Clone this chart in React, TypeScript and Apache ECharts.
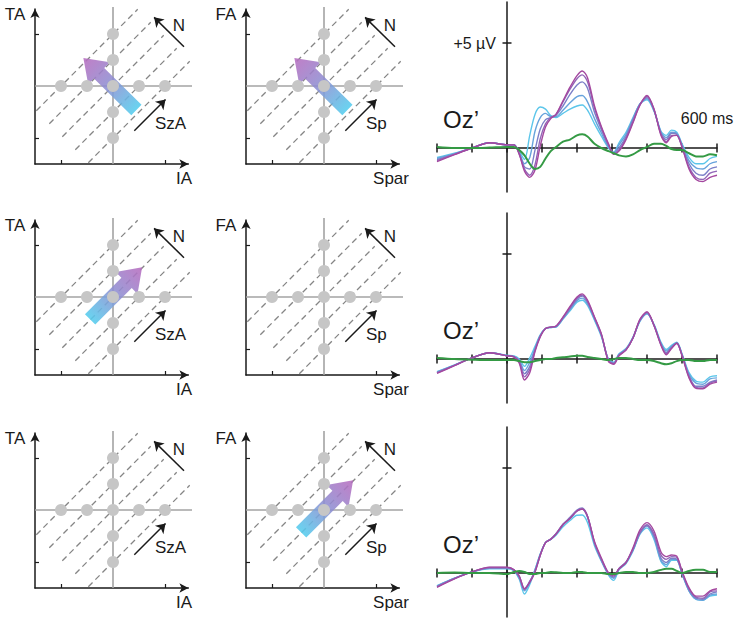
import React, { useEffect, useRef } from 'react';
import * as echarts from 'echarts';

const FONT = '"Liberation Sans", Arial, Helvetica, sans-serif';
const INK = '#1a1a1a';

// ---------- diagram panels (left two columns) ----------
const U = 52; // px per unit in the diagrams
const COL_CX = [113, 324];
const ROW_CY = [86, 297, 510];
const DIAG_MIN = -1.5;
const DIAG_XMAX = 1.45;
const DIAG_YMAX = 1.48;

const DOT_X = [-1, -0.5, 0, 0.5, 1, 0, 0, 0, 0];
const DOT_Y = [0, 0, 0, 0, 0, 1, 0.5, -0.5, -1];
const DASH_SEGMENTS = [
  [-1.475, -0.475, 0.475, 1.475],
  [-1.225, -0.725, 0.725, 1.225],
  [-0.975, -0.975, 0.975, 0.975],
  [-0.725, -1.225, 1.225, 0.725],
  [-0.475, -1.475, 1.475, 0.475],
];
const CROSS_SEGMENTS = [
  [0, -1.5, 0, 1.52],
  [-1.5, 0, 1.52, 0],
];
const N_ARROW = [1.365, 0.756, 0.79, 1.32];
const DIR_ARROW = [0.41, -0.86, 1.01, -0.26];
const BIG_ARROW_N = [0.45, -0.46, -0.57, 0.54];
const BIG_ARROW_DIR = [-0.44, -0.43, 0.56, 0.57];

const PANELS = [
  { row: 0, col: 0, yName: 'TA', xName: 'IA', dirName: 'SzA', arrow: BIG_ARROW_N },
  { row: 0, col: 1, yName: 'FA', xName: 'Spar', dirName: 'Sp', arrow: BIG_ARROW_N },
  { row: 1, col: 0, yName: 'TA', xName: 'IA', dirName: 'SzA', arrow: BIG_ARROW_DIR },
  { row: 1, col: 1, yName: 'FA', xName: 'Spar', dirName: 'Sp', arrow: null },
  { row: 2, col: 0, yName: 'TA', xName: 'IA', dirName: 'SzA', arrow: null },
  { row: 2, col: 1, yName: 'FA', xName: 'Spar', dirName: 'Sp', arrow: BIG_ARROW_DIR },
];

// ---------- ERP panels (right column) ----------
const ERP_LEFT = 437;
const ERP_WIDTH = 280;
const ERP_BASE = [148, 359, 573];
const UV_PX = 21;
const ERP_YMIN = -2.1;
const ERP_YMAX = 6.95;

const T = [-200, -150, -100, -50, 0, 20, 35, 50, 65, 80, 95, 110, 125, 140, 160, 180, 200, 215, 230, 250, 270, 290, 305, 320, 340, 360, 380, 400, 420, 440, 455, 470, 485, 500, 520, 540, 560, 580, 600];
const X_TICKS = [-200, -100, 0, 100, 200, 300, 400, 500, 600];
const Y_TICKS = [5];

// row 1
const C1 = [-0.45, -0.25, 0.0, 0.25, 0.15, 0.15, -0.15, -0.55, 0.6, 1.6, 1.95, 1.85, 1.55, 1.45, 1.65, 1.85, 2.0, 2.05, 1.8, 1.15, 0.55, 0.0, -0.2, 0.25, 0.75, 1.45, 2.1, 2.3, 1.75, 0.8, 0.6, 0.85, 0.75, 0.2, -0.45, -0.75, -0.75, -0.5, -0.4];
const B1 = [-0.5, -0.27, 0.0, 0.25, 0.15, 0.15, -0.2, -0.75, -0.45, 0.8, 1.45, 1.65, 1.5, 1.5, 1.8, 2.15, 2.45, 2.5, 2.2, 1.4, 0.7, 0.05, -0.2, 0.15, 0.65, 1.4, 2.1, 2.35, 1.8, 0.75, 0.5, 0.75, 0.7, 0.15, -0.6, -0.95, -1.0, -0.75, -0.65];
const M1 = [-0.55, -0.29, 0.0, 0.25, 0.15, 0.15, -0.25, -0.9, -1.0, -0.1, 0.9, 1.35, 1.45, 1.55, 2.0, 2.55, 3.0, 3.15, 2.85, 1.7, 0.85, 0.1, -0.25, 0.0, 0.55, 1.35, 2.1, 2.4, 1.8, 0.7, 0.4, 0.7, 0.65, 0.1, -0.75, -1.2, -1.3, -1.0, -0.9];
const P1 = [-0.6, -0.3, 0.0, 0.25, 0.15, 0.15, -0.3, -1.0, -1.3, -0.8, 0.45, 1.15, 1.45, 1.6, 2.2, 2.8, 3.3, 3.48, 3.15, 1.9, 0.95, 0.15, -0.3, -0.1, 0.45, 1.25, 2.05, 2.45, 1.85, 0.65, 0.3, 0.6, 0.6, 0.05, -0.9, -1.4, -1.5, -1.2, -1.1];
const G1 = [-0.65, -0.32, 0.0, 0.25, 0.15, 0.15, -0.3, -1.1, -1.4, -1.05, 0.1, 1.0, 1.4, 1.6, 2.25, 2.9, 3.45, 3.67, 3.35, 2.0, 1.0, 0.2, -0.3, -0.15, 0.4, 1.2, 2.05, 2.5, 1.85, 0.6, 0.25, 0.55, 0.6, 0.05, -1.0, -1.5, -1.6, -1.4, -1.3];
const D1 = [0.05, 0.0, 0.0, 0.02, 0.05, 0.05, -0.1, -0.35, -0.75, -1.0, -0.9, -0.5, -0.15, 0.05, 0.3, 0.4, 0.6, 0.65, 0.55, 0.2, 0.0, -0.15, -0.25, -0.35, -0.4, -0.3, -0.1, 0.05, 0.2, 0.2, 0.1, -0.05, -0.1, -0.1, -0.25, -0.4, -0.4, -0.3, -0.35];

// row 2
const C2 = [-0.6, -0.28, 0.05, 0.3, 0.18, 0.15, 0.0, -0.35, 0.05, 0.6, 1.15, 1.45, 1.5, 1.52, 1.9, 2.3, 2.7, 2.8, 2.55, 1.85, 1.05, 0.0, -0.15, 0.25, 0.5, 1.05, 1.8, 2.15, 1.65, 0.8, 0.45, 0.65, 0.8, 0.25, -0.65, -1.05, -1.1, -0.85, -0.8];
const B2 = [-0.62, -0.29, 0.05, 0.3, 0.16, 0.12, -0.05, -0.55, -0.15, 0.5, 1.12, 1.45, 1.5, 1.53, 1.92, 2.35, 2.78, 2.9, 2.62, 1.9, 1.1, -0.05, -0.18, 0.22, 0.47, 1.02, 1.82, 2.17, 1.62, 0.75, 0.38, 0.6, 0.78, 0.22, -0.72, -1.15, -1.2, -0.95, -0.9];
const M2 = [-0.65, -0.3, 0.05, 0.3, 0.15, 0.1, -0.1, -0.7, -0.35, 0.45, 1.1, 1.45, 1.52, 1.55, 1.95, 2.4, 2.85, 3.0, 2.7, 1.95, 1.12, -0.08, -0.2, 0.2, 0.45, 1.0, 1.85, 2.2, 1.6, 0.7, 0.3, 0.55, 0.75, 0.2, -0.8, -1.3, -1.3, -1.1, -1.0];
const P2 = [-0.66, -0.3, 0.05, 0.3, 0.15, 0.1, -0.15, -0.85, -0.5, 0.4, 1.08, 1.45, 1.52, 1.56, 1.97, 2.45, 2.9, 3.05, 2.75, 1.98, 1.15, -0.1, -0.22, 0.18, 0.44, 1.0, 1.87, 2.22, 1.6, 0.68, 0.25, 0.52, 0.75, 0.18, -0.85, -1.35, -1.38, -1.15, -1.05];
const G2 = [-0.68, -0.32, 0.05, 0.3, 0.15, 0.1, -0.2, -1.0, -0.65, 0.35, 1.05, 1.45, 1.52, 1.57, 2.0, 2.5, 2.95, 3.1, 2.8, 2.0, 1.18, -0.12, -0.25, 0.15, 0.42, 1.0, 1.9, 2.25, 1.6, 0.65, 0.2, 0.5, 0.75, 0.15, -0.9, -1.4, -1.42, -1.2, -1.1];
const D2 = [0.05, 0.0, -0.03, -0.05, -0.05, -0.05, -0.1, -0.15, -0.15, -0.1, -0.05, 0.0, 0.0, 0.05, 0.08, 0.12, 0.15, 0.15, 0.1, 0.05, 0.0, -0.05, 0.0, 0.05, 0.05, 0.0, -0.05, -0.05, -0.1, -0.2, -0.25, -0.2, -0.1, -0.05, -0.05, -0.1, -0.1, -0.05, -0.05];

// row 3
const C3 = [-0.6, -0.25, 0.05, 0.2, 0.2, 0.1, -0.3, -1.0, -0.55, 0.15, 0.9, 1.45, 1.6, 1.8, 2.2, 2.5, 2.75, 2.76, 2.4, 1.3, 0.55, -0.1, -0.35, 0.15, 0.45, 1.05, 1.85, 2.15, 1.6, 0.55, 0.3, 0.6, 0.6, -0.05, -0.85, -1.25, -1.3, -1.1, -1.05];
const B3 = [-0.62, -0.25, 0.05, 0.22, 0.22, 0.12, -0.25, -0.85, -0.45, 0.15, 0.9, 1.45, 1.6, 1.85, 2.3, 2.6, 2.95, 3.05, 2.65, 1.4, 0.6, -0.05, -0.25, 0.2, 0.5, 1.1, 1.9, 2.25, 1.7, 0.6, 0.4, 0.65, 0.65, 0.0, -0.85, -1.25, -1.3, -1.05, -1.0];
const M3 = [-0.64, -0.26, 0.05, 0.24, 0.24, 0.15, -0.2, -0.8, -0.4, 0.1, 0.85, 1.45, 1.62, 1.87, 2.32, 2.65, 3.0, 3.1, 2.7, 1.42, 0.6, -0.05, -0.2, 0.22, 0.52, 1.1, 1.9, 2.25, 1.75, 0.7, 0.5, 0.7, 0.65, 0.0, -0.8, -1.2, -1.25, -1.0, -0.9];
const P3 = [-0.66, -0.27, 0.05, 0.26, 0.26, 0.15, -0.15, -0.75, -0.4, 0.05, 0.85, 1.45, 1.62, 1.87, 2.32, 2.6, 2.95, 3.05, 2.7, 1.45, 0.65, 0.0, -0.15, 0.2, 0.5, 1.15, 1.95, 2.3, 1.85, 0.85, 0.65, 0.78, 0.75, 0.05, -0.75, -1.15, -1.2, -0.9, -0.85];
const G3 = [-0.68, -0.28, 0.05, 0.28, 0.28, 0.15, -0.15, -0.75, -0.45, 0.05, 0.85, 1.45, 1.6, 1.85, 2.3, 2.6, 2.95, 3.05, 2.7, 1.5, 0.7, 0.0, -0.1, 0.2, 0.5, 1.2, 2.05, 2.4, 2.0, 1.0, 0.78, 0.86, 0.8, 0.1, -0.7, -1.1, -1.1, -0.85, -0.75];
const D3 = [0.0, 0.02, 0.0, 0.0, -0.05, 0.05, 0.1, 0.05, -0.05, -0.05, 0.0, 0.0, 0.05, 0.03, 0.0, 0.0, 0.05, 0.05, 0.0, 0.0, 0.0, -0.05, -0.05, 0.0, 0.05, 0.05, 0.0, 0.0, 0.05, 0.15, 0.2, 0.2, 0.1, 0.0, 0.1, 0.15, 0.15, 0.05, 0.05];

const ERP_ROWS = [
  { lines: [C1, B1, M1, P1, G1], diff: D1 },
  { lines: [C2, B2, M2, P2, G2], diff: D2 },
  { lines: [C3, B3, M3, P3, G3], diff: D3 },
];
const LINE_COLORS = ['#5cc6ea', '#67a3dc', '#7c80c8', '#9266b8', '#a4489f'];
const DIFF_COLOR = '#349a44';

function buildOption() {
  const grid: any[] = [];
  const xAxis: any[] = [];
  const yAxis: any[] = [];
  const series: any[] = [];
  const graphic: any[] = [];

  const txt = (text: string, x: number, y: number, size: number, align = 'center') => ({
    type: 'text',
    x,
    y,
    silent: true,
    style: { text, fontSize: size, fontFamily: FONT, fill: INK, align, verticalAlign: 'middle' },
  });

  const axisBase = {
    type: 'value',
    axisLabel: { show: false },
    splitLine: { show: false },
  };

  PANELS.forEach((p, i) => {
    const cx = COL_CX[p.col];
    const cy = ROW_CY[p.row];
    grid.push({
      left: cx + DIAG_MIN * U,
      top: cy - DIAG_YMAX * U,
      width: (DIAG_XMAX - DIAG_MIN) * U,
      height: (DIAG_YMAX - DIAG_MIN) * U,
      containLabel: false,
      outerBoundsMode: 'none',
    });
    const lineCommon = {
      show: true,
      onZero: false,
      symbol: ['none', 'arrow'],
      symbolSize: [7, 9],
      lineStyle: { color: INK, width: 1.5 },
    };
    const tickCommon = {
      show: true,
      inside: true,
      length: 4,
      customValues: [-1, 1],
      lineStyle: { color: INK, width: 1.2 },
    };
    xAxis.push({ ...axisBase, gridIndex: i, min: DIAG_MIN, max: DIAG_XMAX, axisLine: lineCommon, axisTick: tickCommon });
    yAxis.push({ ...axisBase, gridIndex: i, min: DIAG_MIN, max: DIAG_YMAX, axisLine: lineCommon, axisTick: tickCommon });

    const seg = (s: number[]) => ({ coords: [[s[0], s[1]], [s[2], s[3]]] });
    series.push({
      type: 'lines',
      coordinateSystem: 'cartesian2d',
      xAxisIndex: i,
      yAxisIndex: i,
      clip: false,
      silent: true,
      data: DASH_SEGMENTS.map(seg),
      lineStyle: { color: '#858585', width: 1.3, type: [6, 4], opacity: 1 },
    });
    series.push({
      type: 'lines',
      coordinateSystem: 'cartesian2d',
      xAxisIndex: i,
      yAxisIndex: i,
      clip: false,
      silent: true,
      data: CROSS_SEGMENTS.map(seg),
      lineStyle: { color: '#a3a3a3', width: 1.6, opacity: 1 },
    });
    series.push({
      type: 'scatter',
      xAxisIndex: i,
      yAxisIndex: i,
      silent: true,
      symbolSize: 12,
      itemStyle: { color: '#c6c6c6', opacity: 1 },
      data: DOT_X.map((x, k) => [x, DOT_Y[k]]),
    });
    if (p.arrow) {
      series.push({
        type: 'custom',
        coordinateSystem: 'cartesian2d',
        xAxisIndex: i,
        yAxisIndex: i,
        clip: false,
        silent: true,
        dimensions: ['x1', 'y1', 'x2', 'y2'],
        encode: { x: [0, 2], y: [1, 3] },
        data: [p.arrow],
        renderItem: (params: any, api: any) => {
          const a = api.coord([api.value(0), api.value(1)]);
          const b = api.coord([api.value(2), api.value(3)]);
          const dx = b[0] - a[0];
          const dy = b[1] - a[1];
          const L = Math.hypot(dx, dy);
          const ux = dx / L;
          const uy = dy / L;
          const nx = -uy;
          const ny = ux;
          const sw = 7.3;
          const hw = 15.5;
          const hl = 22;
          const bx = b[0] - ux * hl;
          const by = b[1] - uy * hl;
          const pts = [
            [a[0] + nx * sw, a[1] + ny * sw],
            [bx + nx * sw, by + ny * sw],
            [bx + nx * hw, by + ny * hw],
            [b[0], b[1]],
            [bx - nx * hw, by - ny * hw],
            [bx - nx * sw, by - ny * sw],
            [a[0] - nx * sw, a[1] - ny * sw],
          ];
          return {
            type: 'polygon',
            shape: { points: pts },
            style: {
              fill: new echarts.graphic.LinearGradient(
                a[0], a[1], b[0], b[1],
                [
                  { offset: 0, color: '#55cdee' },
                  { offset: 0.5, color: '#8e8fd2' },
                  { offset: 1, color: '#b86cbf' },
                ],
                true
              ),
              opacity: 0.88,
            },
          };
        },
      });
    }
    series.push({
      type: 'lines',
      coordinateSystem: 'cartesian2d',
      xAxisIndex: i,
      yAxisIndex: i,
      clip: false,
      silent: true,
      symbol: ['none', 'arrow'],
      symbolSize: 9,
      data: [seg(N_ARROW), seg(DIR_ARROW)],
      lineStyle: { color: INK, width: 1.5, opacity: 1 },
    });

    graphic.push(txt(p.yName, cx - 98, cy - 72, 17));
    graphic.push(txt(p.xName, cx + (p.col === 0 ? 71 : 67), cy + 92, 17));
    graphic.push(txt('N', cx + 66, cy - 61, 17));
    graphic.push(txt(p.dirName, cx + 42, cy + 37, 17, 'left'));
  });

  ERP_ROWS.forEach((r, k) => {
    const gi = PANELS.length + k;
    const base = ERP_BASE[k];
    grid.push({
      left: ERP_LEFT,
      top: base - ERP_YMAX * UV_PX,
      width: ERP_WIDTH,
      height: (ERP_YMAX - ERP_YMIN) * UV_PX,
      containLabel: false,
      outerBoundsMode: 'none',
    });
    xAxis.push({
      ...axisBase,
      gridIndex: gi,
      min: -200,
      max: 600,
      axisLine: { show: true, onZero: true, lineStyle: { color: INK, width: 1.5 } },
      axisTick: { show: false },
    });
    yAxis.push({
      ...axisBase,
      gridIndex: gi,
      min: ERP_YMIN,
      max: ERP_YMAX,
      axisLine: { show: true, onZero: true, lineStyle: { color: INK, width: 1.5 } },
      axisTick: { show: false },
    });
    r.lines.forEach((vals, j) => {
      series.push({
        type: 'line',
        xAxisIndex: gi,
        yAxisIndex: gi,
        silent: true,
        showSymbol: false,
        symbol: 'none',
        smooth: 0.3,
        lineStyle: { color: LINE_COLORS[j], width: 1.4 },
        data: T.map((t, n) => [t, vals[n]]),
      });
    });
    series.push({
      type: 'line',
      xAxisIndex: gi,
      yAxisIndex: gi,
      silent: true,
      showSymbol: false,
      symbol: 'none',
      smooth: 0.3,
      lineStyle: { color: DIFF_COLOR, width: 2 },
      data: T.map((t, n) => [t, r.diff[n]]),
    });
    series.push({
      type: 'scatter',
      xAxisIndex: gi,
      yAxisIndex: gi,
      silent: true,
      symbol: 'rect',
      symbolSize: [1.5, 9],
      itemStyle: { color: INK, opacity: 1 },
      data: X_TICKS.map((t) => [t, 0]),
    });
    series.push({
      type: 'scatter',
      xAxisIndex: gi,
      yAxisIndex: gi,
      silent: true,
      symbol: 'rect',
      symbolSize: [9, 1.5],
      itemStyle: { color: INK, opacity: 1 },
      data: Y_TICKS.map((v) => [0, v]),
    });
    graphic.push(txt('Oz\u2019', 443, base - 29, 24, 'left'));
  });

  graphic.push(txt('+5 \u00b5V', 496, ERP_BASE[0] - 5 * UV_PX, 16, 'right'));
  graphic.push(txt('600 ms', 707, 118, 16));

  return {
    animation: false,
    backgroundColor: '#ffffff',
    textStyle: { fontFamily: FONT },
    grid,
    xAxis,
    yAxis,
    series,
    graphic,
  };
}

export default function App() {
  const ref = useRef<HTMLDivElement>(null);
  useEffect(() => {
    if (!ref.current) return;
    const chart = echarts.init(ref.current, undefined, { renderer: 'svg' });
    chart.setOption(buildOption() as any);
    return () => chart.dispose();
  }, []);
  return (
    <div
      ref={ref}
      style={{ position: 'fixed', left: 0, top: 0, width: 739, height: 618, background: '#fff' }}
    />
  );
}
